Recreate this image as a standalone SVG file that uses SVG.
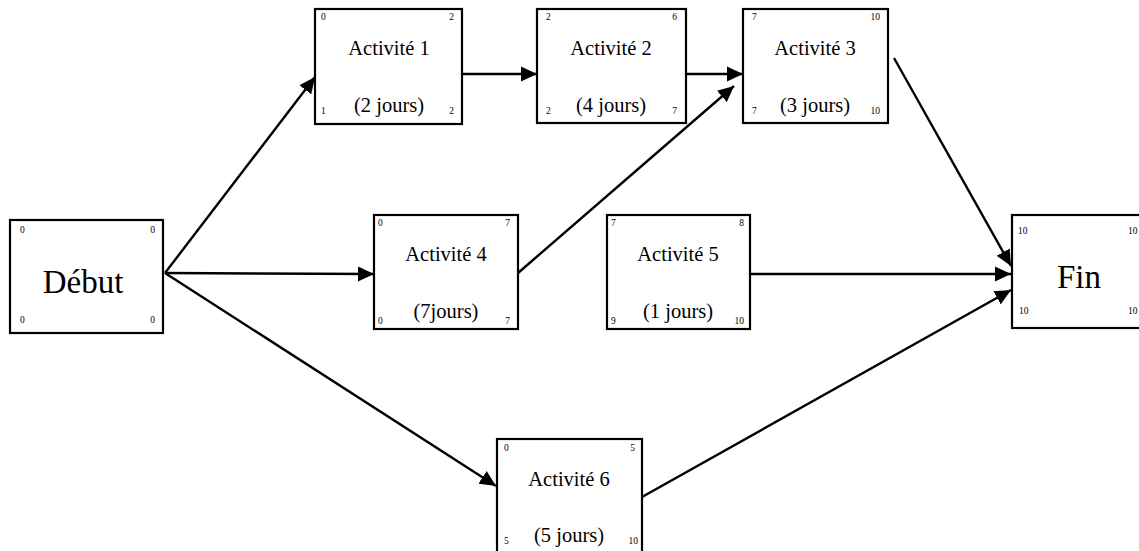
<svg xmlns="http://www.w3.org/2000/svg" width="1139" height="551" viewBox="0 0 1139 551">
  <style>
    .box { fill: #fff; stroke: #000; stroke-width: 2.2; }
    .t { font-family: "Liberation Serif", "Times New Roman", serif; fill: #000; }
    .big { font-size: 33px; text-anchor: middle; }
    .lbl { font-size: 20.5px; text-anchor: middle; }
    .n { font-size: 9.5px; }
    .ne { font-size: 9.5px; text-anchor: end; }
    .edge { stroke: #000; stroke-width: 2.4; fill: none; marker-end: url(#arrow); }
  </style>
  <defs>
    <!-- filled triangular arrowhead, tip at the end point -->
    <marker id="arrow" markerUnits="userSpaceOnUse" markerWidth="17" markerHeight="16" refX="16" refY="8" orient="auto">
      <path d="M0,0.5 L16,8 L0,15.5 z" fill="#000"/>
    </marker>
  </defs>
  <rect width="1139" height="551" fill="#fff"/>

  <g id="connectors">
    <line class="edge" x1="165" y1="273" x2="315" y2="77"/>
    <line class="edge" x1="165" y1="273" x2="374" y2="274"/>
    <line class="edge" x1="165" y1="273" x2="496" y2="486"/>
    <line class="edge" x1="463" y1="74" x2="537" y2="74"/>
    <line class="edge" x1="686" y1="74" x2="743" y2="74"/>
    <line class="edge" x1="518" y1="273" x2="734" y2="86"/>
    <line class="edge" x1="894" y1="58" x2="1011" y2="266"/>
    <line class="edge" x1="750" y1="274" x2="1011" y2="274"/>
    <line class="edge" x1="642" y1="497" x2="1011" y2="290"/>
  </g>

  <g id="debut">
    <rect class="box" x="10" y="220" width="153" height="113"/>
    <text class="t big" x="83" y="293">Début</text>
    <text class="t n" x="20" y="233">0</text>
    <text class="t ne" x="155" y="233">0</text>
    <text class="t n" x="20" y="323">0</text>
    <text class="t ne" x="155" y="323">0</text>
  </g>

  <g id="activite1">
    <rect class="box" x="315" y="9" width="147" height="115"/>
    <text class="t lbl" x="389" y="55">Activité 1</text>
    <text class="t lbl" x="389" y="112">(2 jours)</text>
    <text class="t n" x="321" y="20">0</text>
    <text class="t ne" x="454" y="20">2</text>
    <text class="t n" x="321" y="114">1</text>
    <text class="t ne" x="454" y="114">2</text>
  </g>

  <g id="activite2">
    <rect class="box" x="537" y="9" width="149" height="114"/>
    <text class="t lbl" x="611" y="55">Activité 2</text>
    <text class="t lbl" x="611" y="112">(4 jours)</text>
    <text class="t n" x="546" y="20">2</text>
    <text class="t ne" x="677" y="20">6</text>
    <text class="t n" x="546" y="114">2</text>
    <text class="t ne" x="677" y="114">7</text>
  </g>

  <g id="activite3">
    <rect class="box" x="743" y="9" width="145" height="114"/>
    <text class="t lbl" x="815" y="55">Activité 3</text>
    <text class="t lbl" x="815" y="112">(3 jours)</text>
    <text class="t n" x="752" y="20">7</text>
    <text class="t ne" x="880" y="20">10</text>
    <text class="t n" x="752" y="114">7</text>
    <text class="t ne" x="880" y="114">10</text>
  </g>

  <g id="activite4">
    <rect class="box" x="374" y="215" width="144" height="114"/>
    <text class="t lbl" x="446" y="261">Activité 4</text>
    <text class="t lbl" x="446" y="318">(7jours)</text>
    <text class="t n" x="378" y="226">0</text>
    <text class="t ne" x="510" y="226">7</text>
    <text class="t n" x="378" y="324">0</text>
    <text class="t ne" x="510" y="324">7</text>
  </g>

  <g id="activite5">
    <rect class="box" x="607" y="215" width="143" height="114"/>
    <text class="t lbl" x="678" y="261">Activité 5</text>
    <text class="t lbl" x="678" y="318">(1 jours)</text>
    <text class="t n" x="611" y="226">7</text>
    <text class="t ne" x="744" y="226">8</text>
    <text class="t n" x="611" y="324">9</text>
    <text class="t ne" x="744" y="324">10</text>
  </g>

  <g id="activite6">
    <rect class="box" x="497" y="439" width="145" height="120"/>
    <text class="t lbl" x="569" y="486">Activité 6</text>
    <text class="t lbl" x="569" y="542">(5 jours)</text>
    <text class="t n" x="504" y="451">0</text>
    <text class="t ne" x="635" y="451">5</text>
    <text class="t n" x="504" y="544">5</text>
    <text class="t ne" x="638" y="544">10</text>
  </g>

  <g id="fin">
    <rect class="box" x="1012" y="215" width="140" height="113"/>
    <text class="t big" x="1079" y="288">Fin</text>
    <text class="t n" x="1018" y="234">10</text>
    <text class="t n" x="1128" y="234">10</text>
    <text class="t n" x="1019" y="314">10</text>
    <text class="t n" x="1128" y="314">10</text>
  </g>
</svg>
